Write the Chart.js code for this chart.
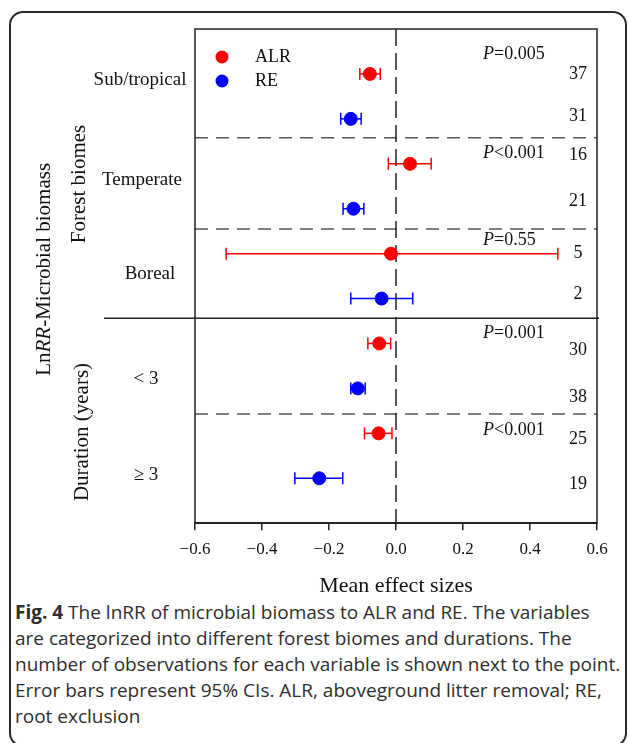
<!DOCTYPE html>
<html>
<head>
<meta charset="utf-8">
<script src="https://cdn.jsdelivr.net/npm/chart.js@4.4.1/dist/chart.umd.min.js"></script>
<style>
  html, body { margin: 0; padding: 0; background: #fff; }
  body { width: 629px; height: 743px; position: relative; overflow: hidden; }
  #frame {
    position: absolute; left: 9px; top: 11px; width: 618px; height: 736px;
    border: 2px solid #2b2b2b; border-radius: 14px; box-sizing: border-box;
  }
  #wrap { position: absolute; left: 0; top: 0; width: 629px; height: 599px; }
  #caption {
    position: absolute; left: 15px; top: 599px; white-space: nowrap;
    font-family: "Open Sans", "Noto Sans", sans-serif; font-size: 19px;
    line-height: 26px; color: #2e2e2e;
  }
  #caption b { font-weight: 700; }
</style>
</head>
<body>
<div id="frame"></div>
<div id="wrap"><canvas id="myChart" width="629" height="599"></canvas></div>
<div id="caption">
  <b>Fig. 4</b> The lnRR of microbial biomass to ALR and RE. The variables<br>
  are categorized into different forest biomes and durations. The<br>
  number of observations for each variable is shown next to the point.<br>
  Error bars represent 95% CIs. ALR, aboveground litter removal; RE,<br>
  root exclusion
</div>
<script>
// values
const categories = ['Sub/tropical', 'Temperate', 'Boreal', '< 3', '\u2265 3'];
const groupTitles = ['Forest biomes', 'Duration (years)'];
const seriesNames = ['ALR', 'RE'];

const alrMean = [-0.078, 0.042, -0.015, -0.050, -0.052];
const alrLow  = [-0.108, -0.023, -0.507, -0.084, -0.094];
const alrHigh = [-0.047, 0.105, 0.483, -0.016, -0.012];

const reMean = [-0.135, -0.127, -0.043, -0.114, -0.229];
const reLow  = [-0.165, -0.158, -0.135, -0.135, -0.302];
const reHigh = [-0.104, -0.096, 0.050, -0.092, -0.159];

const alrN = [37, 16, 5, 30, 25];
const reN  = [31, 21, 2, 38, 19];
const pValues = ['=0.005', '<0.001', '=0.55', '=0.001', '<0.001'];

const xTicks = [-0.6, -0.4, -0.2, 0, 0.2, 0.4, 0.6];

// layout (row units on the y scale, 1 row per point)
const dividerRows = [2.42, 4.45, 8.57];
const sectionBreak = 6.44;
const catLabelRows = [1.14, 3.36, 5.46, 7.79, 9.93];
const catLabelX = [140, 142, 150, 146, 146];
const pRows = [0.56, 2.77, 4.70, 6.78, 8.93];
const nShift = [[0, -0.06], [-0.18, -0.16], [0, -0.09], [0.14, 0.19], [0.13, 0.13]];

const serif = '"Liberation Serif", "Times New Roman", serif';
const ink = '#111';
const red = '#ff0000';
const blue = '#0000ff';

function rows(mean, low, high, offset) {
  return mean.map((m, i) => ({ x: m, y: 2 * i + offset, lo: low[i], hi: high[i] }));
}

function seg(ctx, x0, y0, x1, y1) {
  ctx.beginPath(); ctx.moveTo(x0, y0); ctx.lineTo(x1, y1); ctx.stroke();
}

// draws pieces of text with mixed italic, centred or left aligned
function mixedText(ctx, parts, x, y, size, align) {
  let total = 0;
  parts.forEach(p => {
    ctx.font = (p[1] ? 'italic ' : '') + size + 'px ' + serif;
    total += ctx.measureText(p[0]).width;
  });
  let cx = align === 'center' ? x - total / 2 : x;
  ctx.textAlign = 'left';
  parts.forEach(p => {
    ctx.font = (p[1] ? 'italic ' : '') + size + 'px ' + serif;
    ctx.fillText(p[0], cx, y);
    cx += ctx.measureText(p[0]).width;
  });
}

const overlay = {
  id: 'overlay',
  beforeDatasetsDraw(chart) {
    const { ctx, chartArea: a, scales: { x, y } } = chart;
    ctx.save();
    // dashed section lines
    ctx.strokeStyle = '#555';
    ctx.lineWidth = 1.5;
    ctx.setLineDash([13, 8]);
    dividerRows.forEach(r => {
      const py = y.getPixelForValue(r);
      seg(ctx, a.left, py, a.right, py);
    });
    ctx.setLineDash([]);
    ctx.strokeStyle = '#222';
    const sy = y.getPixelForValue(sectionBreak);
    seg(ctx, 104, sy, a.right + 2, sy);

    // zero reference line
    ctx.setLineDash([17, 7]);
    const zx = x.getPixelForValue(0);
    seg(ctx, zx, a.top, zx, a.bottom);
    ctx.setLineDash([]);

    // error bars
    chart.data.datasets.forEach(ds => {
      ctx.strokeStyle = ds.backgroundColor;
      ctx.lineWidth = 1.5;
      ds.data.forEach(p => {
        const py = y.getPixelForValue(p.y);
        const x0 = x.getPixelForValue(p.lo), x1 = x.getPixelForValue(p.hi);
        seg(ctx, x0, py, x1, py);
        seg(ctx, x0, py - 6, x0, py + 6);
        seg(ctx, x1, py - 6, x1, py + 6);
      });
    });
    ctx.restore();
  },
  afterDraw(chart) {
    const { ctx, chartArea: a, scales: { x, y } } = chart;
    ctx.save();
    // plot frame
    ctx.strokeStyle = '#222';
    ctx.lineWidth = 1.5;
    ctx.strokeRect(a.left, a.top, a.right - a.left, a.bottom - a.top);

    ctx.fillStyle = ink;
    ctx.textBaseline = 'middle';

    // legend
    chart.data.datasets.forEach((ds, i) => {
      const ly = a.top + 28 + i * 24;
      ctx.fillStyle = ds.backgroundColor;
      ctx.beginPath(); ctx.arc(a.left + 27, ly, 6.5, 0, Math.PI * 2); ctx.fill();
      ctx.fillStyle = ink;
      ctx.font = '18px ' + serif;
      ctx.textAlign = 'left';
      ctx.fillText(ds.label, a.left + 60, ly);
    });

    // category labels
    ctx.font = '19px ' + serif;
    ctx.textAlign = 'center';
    categories.forEach((c, i) => {
      ctx.fillText(c, catLabelX[i], y.getPixelForValue(catLabelRows[i]));
    });

    // P values
    pValues.forEach((p, i) => {
      mixedText(ctx, [['P', true], [p, false]], x.getPixelForValue(0.26), y.getPixelForValue(pRows[i]), 18, 'left');
    });

    // number of observations
    ctx.font = '18px ' + serif;
    ctx.textAlign = 'center';
    const nx = x.getPixelForValue(0.543);
    alrN.forEach((n, i) => {
      ctx.fillText(String(n), nx, y.getPixelForValue(2 * i + 1 + nShift[i][0]));
      ctx.fillText(String(reN[i]), nx, y.getPixelForValue(2 * i + 2 + nShift[i][1]));
    });

    // rotated group titles
    const rot = (fn, px, py) => {
      ctx.save(); ctx.translate(px, py); ctx.rotate(-Math.PI / 2); fn(); ctx.restore();
    };
    ctx.font = '21px ' + serif;
    rot(() => { ctx.textAlign = 'center'; ctx.fillText(groupTitles[0], 0, 0); }, 79, y.getPixelForValue(3.45));
    rot(() => { ctx.textAlign = 'center'; ctx.fillText(groupTitles[1], 0, 0); }, 82, y.getPixelForValue(8.97));
    rot(() => {
      mixedText(ctx, [['Ln', false], ['RR', true], ['-Microbial biomass', false]], 0, 0, 21, 'center');
    }, 44, y.getPixelForValue(5.35));
    ctx.restore();
  }
};

const ctx = document.getElementById('myChart');

new Chart(ctx, {
  type: 'scatter',
  data: {
    datasets: [
      {
        label: seriesNames[0],
        data: rows(alrMean, alrLow, alrHigh, 1),
        backgroundColor: red,
        borderColor: red,
        pointRadius: 6.5,
        pointHoverRadius: 6.5
      },
      {
        label: seriesNames[1],
        data: rows(reMean, reLow, reHigh, 2),
        backgroundColor: blue,
        borderColor: blue,
        pointRadius: 6.5,
        pointHoverRadius: 6.5
      }
    ]
  },
  options: {
    responsive: false,
    animation: false,
    devicePixelRatio: 1,
    layout: { padding: { left: 195, right: 32, top: 29, bottom: 0 } },
    plugins: {
      legend: { display: false },
      tooltip: { enabled: false }
    },
    scales: {
      x: {
        type: 'linear',
        min: -0.6,
        max: 0.6,
        afterBuildTicks: s => { s.ticks = xTicks.map(v => ({ value: v })); },
        ticks: {
          callback: v => {
            const r = Math.round(v * 10) / 10;
            return (r < 0 ? '\u2212' : '') + Math.abs(r).toFixed(1);
          },
          font: { family: serif, size: 17 },
          color: ink,
          padding: 9,
          maxRotation: 0
        },
        grid: {
          drawOnChartArea: false,
          drawTicks: true,
          tickLength: 7,
          color: '#222',
          lineWidth: 1.5
        },
        border: { display: true, color: '#222', width: 1.5 },
        title: {
          display: true,
          text: 'Mean effect sizes',
          font: { family: serif, size: 22 },
          color: ink,
          padding: { top: 4, bottom: 0 }
        }
      },
      y: {
        type: 'linear',
        min: 0,
        max: 11,
        reverse: true,
        display: false
      }
    }
  },
  plugins: [overlay]
});
</script>
</body>
</html>
